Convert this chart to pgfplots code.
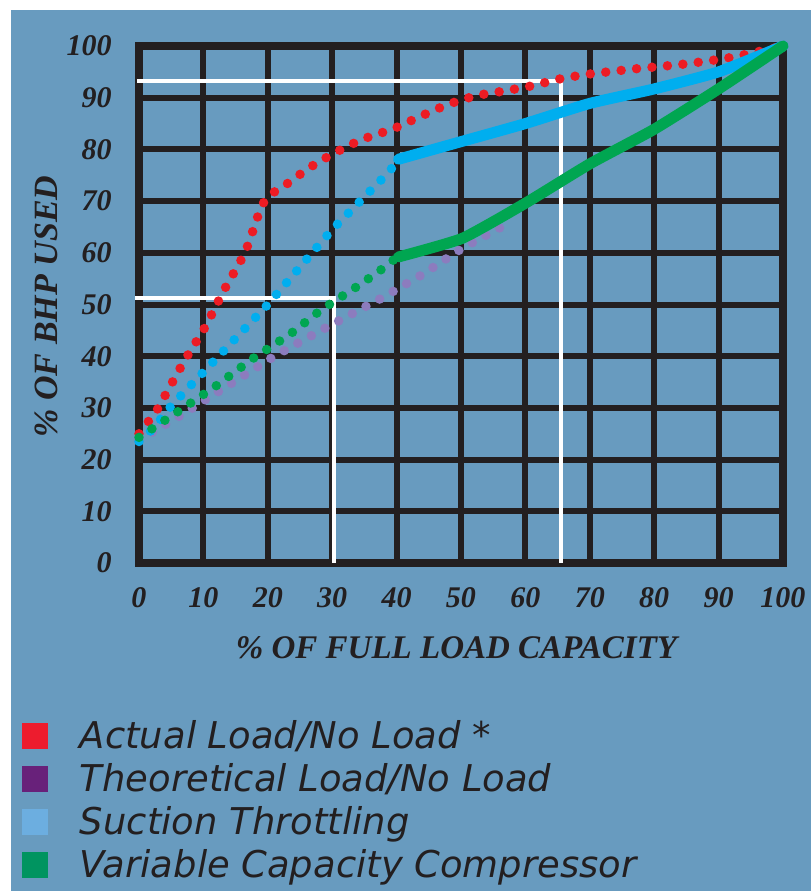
\documentclass[border=0pt]{standalone}
\usepackage{fontspec}
\setmainfont{Liberation Serif}
\newfontfamily\legfont{DejaVu Sans}
\usepackage{pgfplots}
\pgfplotsset{compat=1.18}
\definecolor{bgblue}{RGB}{104,155,191}
\definecolor{gridc}{RGB}{35,31,32}
\definecolor{textc}{RGB}{35,31,32}
\definecolor{redc}{RGB}{237,28,36}
\definecolor{bluec}{RGB}{0,174,239}
\definecolor{greenc}{RGB}{0,166,81}
\definecolor{purpc}{RGB}{140,124,190}
\definecolor{legred}{RGB}{237,28,46}
\definecolor{legpurp}{RGB}{104,33,122}
\definecolor{legblue}{RGB}{108,174,224}
\definecolor{leggreen}{RGB}{0,148,96}
\begin{document}
\begin{tikzpicture}
\path[fill=white] (-69.5pt,-164pt) rectangle (336pt,281.5pt);
\fill[bgblue] (-64pt,-164pt) rectangle (336pt,276.5pt);
\begin{axis}[
  at={(0pt,0pt)}, anchor=south west,
  scale only axis, width=322pt, height=258.5pt,
  xmin=0, xmax=100, ymin=0, ymax=100,
  xtick={0,10,...,100}, ytick={0,10,...,100},
  grid=major,
  major grid style={draw=gridc, line width=3pt},
  axis line style={draw=gridc, line width=4pt, line cap=rect},
  tick style={draw=none},
  clip=false,
  /pgf/number format/assume math mode=true,
  tick label style={font=\fontsize{15}{15}\selectfont\bfseries\itshape, text=textc},
  xticklabel style={anchor=base, inner sep=0pt, yshift=-22pt},
  yticklabel style={anchor=east, inner sep=0pt, xshift=-13.5pt},
  xlabel={\% OF FULL LOAD CAPACITY},
  xlabel style={at={(axis description cs:0.493,-0.1838)}, anchor=base, inner sep=0pt,
    font=\fontsize{16.5}{16.5}\selectfont\bfseries\itshape, text=textc},
  ylabel={\% OF BHP USED},
  ylabel style={at={(axis description cs:-0.1273,0.496)}, anchor=base, rotate=0, inner sep=0pt,
    font=\fontsize{17}{17}\selectfont\bfseries\itshape, text=textc},
  legend image code/.code={\fill[#1, draw=none] (0pt,-6.5pt) rectangle (13pt,6.5pt); \path[draw=none, fill=none] (0pt,0pt) rectangle (29pt,0.1pt);},
  legend cell align=left,
  legend style={at={(0,0)}, anchor=north west, xshift=-58.5pt, yshift=-75.75pt,
    draw=none, fill=none, inner sep=0pt, outer sep=0pt, row sep=0pt, column sep=0pt,
    font=\legfont\itshape\fontsize{18.45}{18.45}\selectfont, text=textc,
    nodes={inner sep=0pt, text height=16.75pt, text depth=4.75pt}},
]
% white guide lines
\addplot[white, line width=2pt, forget plot] coordinates {(-0.3,93.2) (65.6,93.2) (65.6,0)};
\addplot[white, line width=2pt, forget plot] coordinates {(-0.6,51.2) (30.3,51.2) (30.3,0)};
% Theoretical Load/No Load
\addplot[purpc, line width=4.75pt, line cap=round, dash pattern=on 0pt off 7.75pt, forget plot]
  coordinates {(0,23.8) (6.8,28.8) (21,40) (29,45.5) (37.6,51.2) (44,55.8) (50.2,60.9) (57,65.5)};
% Actual Load/No Load
\addplot[redc, line width=4.75pt, line cap=round, dash pattern=on 0pt off 7.75pt, smooth, tension=0.4, forget plot]
  coordinates {(0,25) (1.2,27) (2.7,29.4) (6.9,38.8) (10.2,45.5) (13.3,53) (16.5,60.2) (19,68.9) (20.5,71.3)
   (22.6,73) (26.4,76.4) (30.2,79.2) (34.6,81.9) (39.5,84) (43.7,86.4) (48,88.7) (52.4,90.4) (56.7,91.3)
   (61,92.3) (65.6,93.7) (70.1,94.6) (77.2,95.6) (84.6,96.5) (92,97.8) (100,100)};
% Suction Throttling
\addplot[bluec, line width=4.75pt, line cap=round, dash pattern=on 0pt off 7.75pt, forget plot]
  coordinates {(0,23.5) (2.2,26) (5,30.4) (11.2,38.5) (20,50) (30,64.5) (38.7,75.5) (40,77.5)};
\addplot[bluec, line width=5.5pt, line cap=round, line join=round, smooth, tension=0.3, forget plot]
  coordinates {(40.3,78.1) (50,81.5) (60,85) (70,88.9) (80,91.7) (90,95) (100,100)};
% Variable Capacity Compressor
\addplot[greenc, line width=4.75pt, line cap=round, dash pattern=on 0pt off 7.75pt, forget plot]
  coordinates {(0,24.3) (6.2,29.4) (11.9,34.2) (17.5,39.4) (23.5,44.3) (28.2,48.9) (34.5,54) (38.8,57.8) (40,59.2)};
\addplot[greenc, line width=5.5pt, line cap=round, line join=round, smooth, tension=0.3, forget plot]
  coordinates {(40.3,59.2) (50.2,62.8) (60,69.6) (70,77.2) (80,83.9) (90,91.7) (100,100)};
% legend
\addlegendimage{fill=legred}
\addlegendentry{Actual Load/No Load *}
\addlegendimage{fill=legpurp}
\addlegendentry{Theoretical Load/No Load}
\addlegendimage{fill=legblue}
\addlegendentry{Suction Throttling}
\addlegendimage{fill=leggreen}
\addlegendentry{Variable Capacity Compressor}
\end{axis}
\end{tikzpicture}
\end{document}
